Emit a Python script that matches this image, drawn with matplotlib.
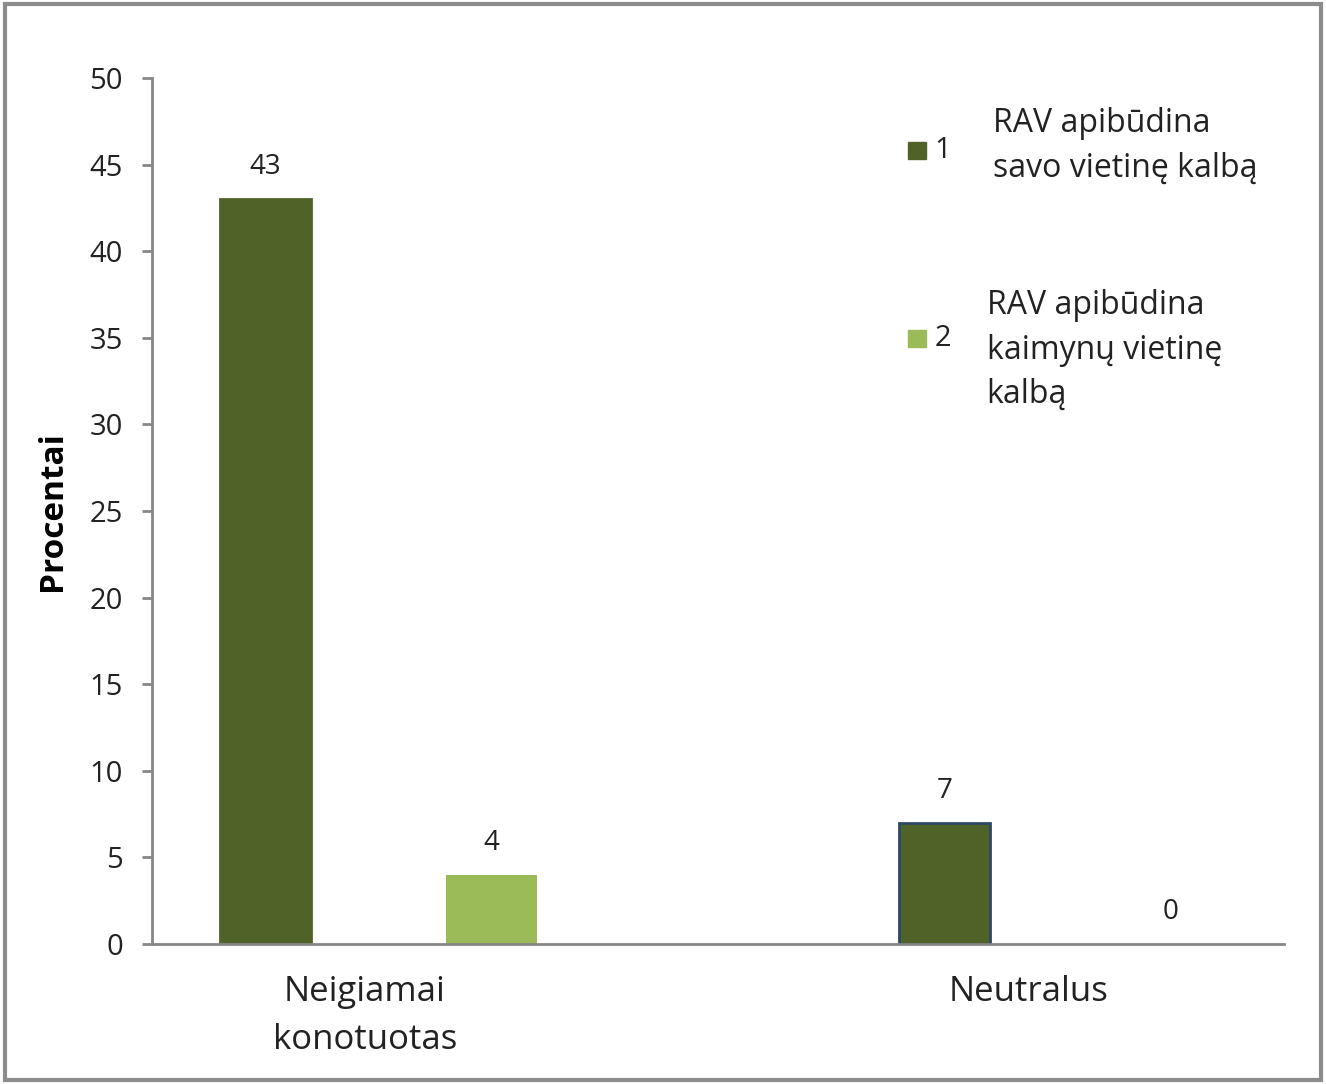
import matplotlib
matplotlib.use('agg')
import matplotlib.pyplot as plt
from matplotlib.patches import Rectangle

categories = ["Neigiamai\nkonotuotas", "Neutralus"]
series_names = ["1", "2"]
series_notes = ["RAV apibūdina\nsavo vietinę kalbą", "RAV apibūdina\nkaimynų vietinę\nkalbą"]
series_1 = [43, 7]
series_2 = [4, 0]
yticks = [0, 5, 10, 15, 20, 25, 30, 35, 40, 45, 50]

plt.rcParams['font.family'] = ['Open Sans', 'DejaVu Sans']
dark = '#4F6228'
light = '#9BBB59'
axis_grey = '#868686'
txt = '#222222'

fig = plt.figure(figsize=(13.26, 10.84), dpi=100)
ax = fig.add_axes([0.1146, 0.1292, 0.8537, 0.7989])

w = 0.134
off = 0.1667
xs = range(len(categories))
b1 = ax.bar([x - off for x in xs], series_1, width=w, color=dark,
            edgecolor=[dark, '#2E4866'], linewidth=2)
b2 = ax.bar([x + off for x in xs], series_2, width=w, color=light)

for bars, vals in ((b1, series_1), (b2, series_2)):
    for b, v in zip(bars, vals):
        ax.annotate(str(v), (b.get_x() + b.get_width() / 2, v),
                    xytext=(0, 23), textcoords='offset points',
                    ha='center', va='center', fontsize=20, color=txt)

ax.set_xlim(-1 / 3, 4 / 3)
ax.set_ylim(0, 50)
ax.set_yticks(yticks)
ax.set_xticks([-0.02, 0.957])
ax.set_xticklabels(categories, fontsize=25, linespacing=1.55)
ax.tick_params(axis='x', length=0, pad=22, colors=txt)
ax.tick_params(axis='y', length=7, width=2, color=axis_grey, labelsize=21,
               labelcolor=txt, pad=14)
for s in ('top', 'right'):
    ax.spines[s].set_visible(False)
for s in ('left', 'bottom'):
    ax.spines[s].set_color(axis_grey)
    ax.spines[s].set_linewidth(2)
ax.set_ylabel("Procentai", fontsize=24, fontweight='bold')
ax.yaxis.set_label_coords(-0.073, 0.5)

# legend, drawn by hand to keep the Excel layout
leg_y = [0.861, 0.688]
note_pos = [(0.749, 0.901), (0.744, 0.733)]
for i, c in enumerate([dark, light]):
    fig.patches.append(Rectangle((0.6845, leg_y[i] - 0.008), 0.0135, 0.016,
                                 transform=fig.transFigure, color=c))
    fig.text(0.7045, leg_y[i], series_names[i], fontsize=21, va='center', color=txt)
    fig.text(note_pos[i][0], note_pos[i][1], series_notes[i], fontsize=23,
             va='top', linespacing=1.45, color=txt)

fig.patches.append(Rectangle((0.004, 0.004), 0.992, 0.992, transform=fig.transFigure,
                             fill=False, edgecolor='#8c8c8c', linewidth=3))

fig.savefig('out.png', dpi=100)
